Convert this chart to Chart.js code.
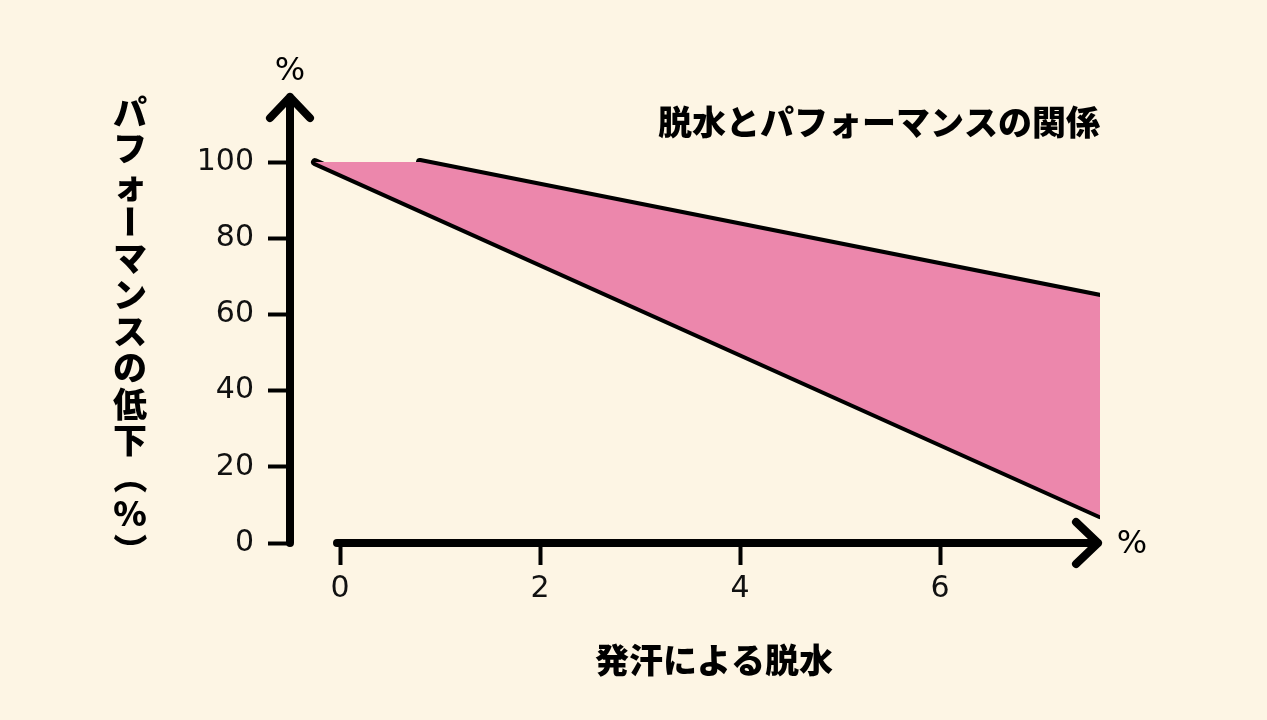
<!DOCTYPE html>
<html>
<head>
<meta charset="utf-8">
<script src="https://cdn.jsdelivr.net/npm/chart.js@4/dist/chart.umd.min.js"></script>
<style>
  html, body { margin: 0; padding: 0; background: #fdf5e4; }
  #wrap { width: 1267px; height: 720px; }
</style>
</head>
<body>
<div id="wrap"><canvas id="myCanvas"></canvas></div>
<script>
// values
const dehydration = [-0.25, 0.8, 7.6]
const bandTop = [100, 100, 64.6]
const upperX = [0.8, 7.6]
const upperY = [100, 64.6]
const lowerX = [-0.25, 7.6]
const lowerY = [100, 7.3]
const xTicks = [0, 2, 4, 6]
const yTicks = [0, 20, 40, 60, 80, 100]

const chartTitle = '脱水とパフォーマンスの関係'
const xTitle = '発汗による脱水'
const yTitle = 'パフォーマンスの低下（%）'

const toPoints = (xs, ys) => xs.map((x, i) => ({ x: x, y: ys[i] }))

// axes with arrow heads, titles, vertical y title
const decorations = {
    id: 'decorations',
    afterDraw(chart) {
        const ctx = chart.ctx
        const x = chart.scales.x
        const y = chart.scales.y
        const x0 = x.getPixelForValue(-0.5)
        const y0 = y.getPixelForValue(0)
        const top = chart.chartArea.top
        const right = chart.chartArea.right
        ctx.save()
        ctx.strokeStyle = '#000'
        ctx.lineWidth = 8
        ctx.lineCap = 'round'
        ctx.lineJoin = 'round'
        // y axis
        ctx.beginPath()
        ctx.moveTo(x0, y0); ctx.lineTo(x0, top + 2)
        ctx.moveTo(x0 - 20, top + 23); ctx.lineTo(x0, top + 2); ctx.lineTo(x0 + 20, top + 23)
        // x axis
        const xs = x.getPixelForValue(-0.03)
        ctx.moveTo(xs, y0); ctx.lineTo(right - 2, y0)
        ctx.moveTo(right - 24, y0 - 21); ctx.lineTo(right - 2, y0); ctx.lineTo(right - 24, y0 + 21)
        ctx.stroke()

        ctx.fillStyle = '#000'
        ctx.font = '32px "DejaVu Sans"'
        ctx.textAlign = 'center'
        ctx.textBaseline = 'middle'
        ctx.fillText('%', x0, 72)
        ctx.fillText('%', right + 32, y0 + 2)

        ctx.font = '900 34px "Noto Sans CJK JP"'
        ctx.textAlign = 'right'
        ctx.fillText(chartTitle, right, 122)
        ctx.textAlign = 'center'
        ctx.fillText(xTitle, 714, 660)

        // vertical title, one char at a time
        const chars = Array.from(yTitle)
        let cy = 112
        chars.forEach(c => {
            const rotate = 'ー（）'.includes(c)
            ctx.save()
            ctx.translate(130, cy)
            if (rotate) ctx.rotate(Math.PI / 2)
            ctx.fillText(c, 0, 0)
            ctx.restore()
            cy += 36.5
        })
        ctx.restore()
    }
}

Chart.defaults.font.family = '"DejaVu Sans"'

new Chart(document.getElementById('myCanvas').getContext('2d'), {
    type: 'line',
    data: {
        datasets: [
            {
                data: toPoints(dehydration, bandTop),
                borderWidth: 0,
                borderColor: 'rgba(0,0,0,0)',
                pointRadius: 0,
                backgroundColor: '#ec87ac',
                fill: '+2'
            },
            {
                data: toPoints(upperX, upperY),
                borderColor: '#000',
                borderWidth: 8,
                borderCapStyle: 'round',
                pointRadius: 0,
                fill: false
            },
            {
                data: toPoints(lowerX, lowerY),
                borderColor: '#000',
                borderWidth: 8,
                borderCapStyle: 'round',
                pointRadius: 0,
                fill: false
            }
        ]
    },
    options: {
        responsive: true,
        maintainAspectRatio: false,
        animation: false,
        layout: { padding: { left: 140, right: 167, top: 95, bottom: 117 } },
        plugins: { legend: { display: false }, tooltip: { enabled: false } },
        scales: {
            x: {
                type: 'linear',
                min: -0.5,
                max: 7.6,
                afterBuildTicks: s => { s.ticks = xTicks.map(v => ({ value: v })) },
                afterFit: s => { s.height = 60 },
                border: { display: false },
                grid: { drawOnChartArea: false, drawTicks: true, tickLength: 22, tickWidth: 4, tickColor: '#000' },
                ticks: { color: '#111', font: { size: 30 }, padding: 6 }
            },
            y: {
                min: 0,
                max: 117.6,
                afterBuildTicks: s => { s.ticks = yTicks.map(v => ({ value: v })) },
                afterFit: s => { s.width = 150 },
                border: { display: false },
                grid: { drawOnChartArea: false, drawTicks: true, tickLength: 22, tickWidth: 4, tickColor: '#000' },
                ticks: { color: '#111', font: { size: 30 }, padding: 14 }
            }
        }
    },
    plugins: [decorations]
})
</script>
</body>
</html>
